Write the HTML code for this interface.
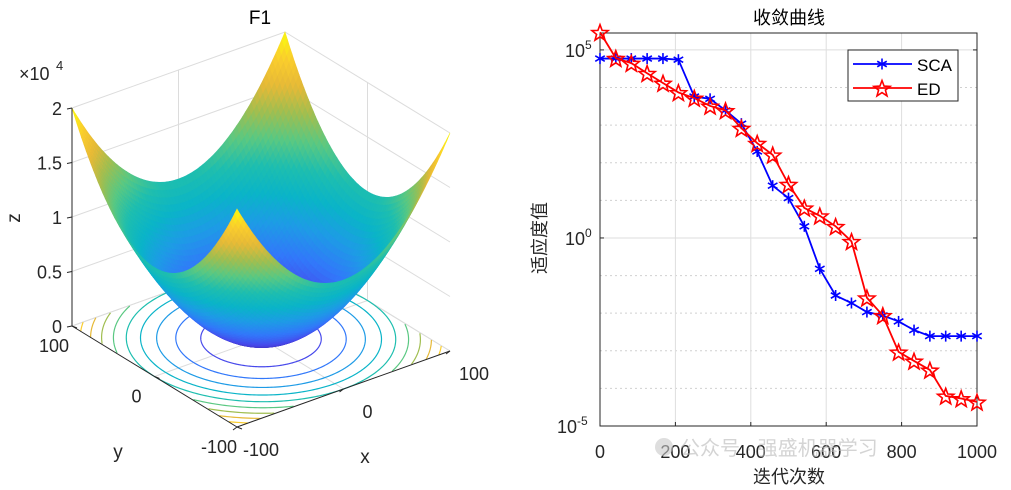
<!DOCTYPE html>
<html><head><meta charset="utf-8"><style>
body{margin:0;background:#fff;}
svg{display:block;font-family:"Liberation Sans","Noto Sans CJK SC",sans-serif;}
</style></head><body>
<svg id="s" width="1011" height="490" viewBox="0 0 1011 490">
<g id="left"></g>
<g id="right"></g>
</svg>
<script>
// ---- convergence data (log10 of fitness) ----
const iterations = [0,42,83,125,167,208,250,292,333,375,417,458,500,542,583,625,667,708,750,792,833,875,917,958,1000];
const scaLog = [4.77,4.77,4.77,4.77,4.77,4.74,3.76,3.70,3.39,3.04,2.30,1.39,1.06,0.31,-0.82,-1.53,-1.73,-1.97,-2.06,-2.22,-2.45,-2.61,-2.61,-2.61,-2.61];
const edLog = [5.47,4.78,4.65,4.38,4.12,3.87,3.72,3.51,3.39,2.92,2.52,2.21,1.43,0.80,0.59,0.31,-0.09,-1.59,-2.06,-3.03,-3.27,-3.51,-4.20,-4.27,-4.36];
const xTicks = [0,200,400,600,800,1000];
const yDecades = [5,0,-5];
// ---- surface settings ----
const zTicks = [0,0.5,1,1.5,2];
const xyTicks = [-100,0,100];
const contourLevels = [2000,4000,6000,8000,10000,12000,14000,16000,18000,20000];

const NS='http://www.w3.org/2000/svg';
function mk(parent,tag,attrs,text){const e=document.createElementNS(NS,tag);for(const k in attrs)e.setAttribute(k,attrs[k]);if(text!==undefined)e.textContent=text;parent.appendChild(e);return e;}

// parula-like
const stops=[[62,38,168],[71,73,235],[50,120,250],[30,155,230],[10,180,200],[30,190,175],[90,200,130],[160,190,80],[230,185,55],[250,205,45],[249,251,14]];
function parula(t){t=Math.max(0,Math.min(1,t));const n=stops.length-1;const p=t*n,i=Math.min(n-1,Math.floor(p)),f=p-i;const a=stops[i],b=stops[i+1];
return 'rgb('+a.map((v,k)=>Math.round(v+(b[k]-v)*f)).join(',')+')';}

function P(x,y,z){const u=(x+100)/200,v=(y+100)/200;return [237+u*213-v*165,427-u*76-v*101-z/2e4*218];}

const L=document.getElementById('left');
const gridC='#dcdcdc';
for(const zt of zTicks){const z=zt*1e4;
 let a=P(-100,100,z),b=P(100,100,z),c=P(100,-100,z);
 const gl=mk(L,'polyline',{points:[a,b,c].map(p=>p.join(',')).join(' '),fill:'none',stroke:gridC,'stroke-width':1});
 }
{let a=P(0,100,0),b=P(0,100,2e4);mk(L,'line',{x1:a[0],y1:a[1],x2:b[0],y2:b[1],stroke:gridC,});
 a=P(100,0,0);b=P(100,0,2e4);mk(L,'line',{x1:a[0],y1:a[1],x2:b[0],y2:b[1],stroke:gridC,});
 a=P(100,100,0);b=P(100,100,2e4);mk(L,'line',{x1:a[0],y1:a[1],x2:b[0],y2:b[1],stroke:gridC,});
 a=P(0,-100,0);b=P(0,100,0);mk(L,'line',{x1:a[0],y1:a[1],x2:b[0],y2:b[1],stroke:gridC,});
 a=P(-100,0,0);b=P(100,0,0);mk(L,'line',{x1:a[0],y1:a[1],x2:b[0],y2:b[1],stroke:gridC,});
 a=P(-100,100,0);b=P(100,100,0);mk(L,'line',{x1:a[0],y1:a[1],x2:b[0],y2:b[1],stroke:gridC,});
 a=P(100,-100,0);b=P(100,100,0);mk(L,'line',{x1:a[0],y1:a[1],x2:b[0],y2:b[1],stroke:gridC,});}
for(const lv of contourLevels){const r=Math.sqrt(lv);let pts=[],segs=[];
 for(let i=0;i<=360;i++){const t=i*Math.PI/180,x=r*Math.cos(t),y=r*Math.sin(t);
  if(Math.abs(x)<=100&&Math.abs(y)<=100){pts.push(P(x,y,0));}else{if(pts.length>1)segs.push(pts);pts=[];}}
 if(pts.length>1)segs.push(pts);
 for(const sg of segs){const c=mk(L,'polyline',{points:sg.map(p=>p.join(',')).join(' '),fill:'none',stroke:parula(lv/2e4),'stroke-width':1.2});
  }}
const N=70,quads=[];
for(let i=0;i<N;i++)for(let j=0;j<N;j++){
 const x0=-100+200*i/N,x1=-100+200*(i+1)/N,y0=-100+200*j/N,y1=-100+200*(j+1)/N;
 const f=(x,y)=>x*x+y*y;const xc=(x0+x1)/2,yc=(y0+y1)/2,zc=f(xc,yc);
 const depth=-0.527*xc/100-0.687*yc/100+0.5*zc/2e4*1.6;
 quads.push({pts:[P(x0,y0,f(x0,y0)),P(x1,y0,f(x1,y0)),P(x1,y1,f(x1,y1)),P(x0,y1,f(x0,y1))],z:zc,d:depth});}
quads.sort((a,b)=>a.d-b.d);
const SG=mk(L,'g',{});
for(const q of quads){const col=parula(q.z/2e4);mk(SG,'polygon',{points:q.pts.map(p=>p[0].toFixed(1)+','+p[1].toFixed(1)).join(' '),fill:col,stroke:col,'stroke-width':0.6});}
{let a=P(-100,100,0),b=P(-100,100,2e4);mk(L,'line',{x1:a[0],y1:a[1],x2:b[0],y2:b[1],stroke:'#262626',});
 a=P(-100,-100,0);b=P(100,-100,0);mk(L,'line',{x1:a[0],y1:a[1],x2:b[0],y2:b[1],stroke:'#262626',});
 b=P(-100,100,0);mk(L,'line',{x1:a[0],y1:a[1],x2:b[0],y2:b[1],stroke:'#262626',});}
for(const zt of zTicks){const p=P(-100,100,zt*1e4);mk(L,'line',{x1:p[0]-5,y1:p[1]+1,x2:p[0],y2:p[1],stroke:'#262626'});
 const t=mk(L,'text',{x:p[0]-10,y:p[1]+7,'text-anchor':'end','font-size':18,fill:'#262626'},String(zt));
 }
for(const v of xyTicks){let p=P(v,-100,0);mk(L,'line',{x1:p[0],y1:p[1],x2:p[0]-4,y2:p[1]+3,stroke:'#262626'});
 let t=mk(L,'text',{x:p[0]+24,y:p[1]+29,'text-anchor':'middle','font-size':18,fill:'#262626'},String(v));
 
 p=P(-100,v,0);mk(L,'line',{x1:p[0],y1:p[1],x2:p[0]+5,y2:p[1]+2,stroke:'#262626'});
 t=mk(L,'text',{x:p[0]-18,y:p[1]+26,'text-anchor':'middle','font-size':18,fill:'#262626'},String(v));
 }
mk(L,'text',{x:260,y:24,'text-anchor':'middle','font-size':19,fill:'#000',},'F1');
mk(L,'text',{x:19,y:80,'font-size':18,fill:'#262626',},'×10');
mk(L,'text',{x:56,y:70,'font-size':13,fill:'#262626',},'4');
mk(L,'text',{x:20,y:218,'text-anchor':'middle','font-size':19,fill:'#262626',transform:'rotate(-90 20 218)',},'z');
mk(L,'text',{x:118,y:458,'text-anchor':'middle','font-size':19,fill:'#262626',},'y');
mk(L,'text',{x:365,y:463,'text-anchor':'middle','font-size':19,fill:'#262626',},'x');

const R=document.getElementById('right');
const ax={l:600,r:977,t:33,b:426};const yMin=-5,yMax=5.45;
const xs=v=>ax.l+v/1000*(ax.r-ax.l);
const ys=v=>ax.b-(v-yMin)/(yMax-yMin)*(ax.b-ax.t);
for(let d=-4;d<=5;d++){if(d===0||d===5)continue;const y=ys(d);
 const g=mk(R,'line',{x1:ax.l,y1:y,x2:ax.r,y2:y,stroke:'#d0d0d0','stroke-dasharray':'2,3'});}
for(const d of yDecades){const y=ys(d);const g=mk(R,'line',{x1:ax.l,y1:y,x2:ax.r,y2:y,stroke:'#dedede'});
 mk(R,'line',{x1:ax.l,y1:y,x2:ax.l+4,y2:y,stroke:'#262626'});mk(R,'line',{x1:ax.r,y1:y,x2:ax.r-4,y2:y,stroke:'#262626'});
 const t=mk(R,'text',{x:ax.l-34,y:y+7,'font-size':18,fill:'#262626'});
 t.innerHTML='10<tspan dy="-8" font-size="12">'+d+'</tspan>';
 t.setAttribute('x',ax.l-(d<0?43:35));}
for(const v of xTicks){const x=xs(v);const g=mk(R,'line',{x1:x,y1:ax.t,x2:x,y2:ax.b,stroke:'#dedede'});
 mk(R,'line',{x1:x,y1:ax.b,x2:x,y2:ax.b-4,stroke:'#262626'});
 const t=mk(R,'text',{x:x,y:458,'text-anchor':'middle','font-size':18,fill:'#262626'},String(v));}
mk(R,'rect',{x:ax.l,y:ax.t,width:ax.r-ax.l,height:ax.b-ax.t,fill:'none',stroke:'#262626',});
function star(cx,cy,r){let p=[];for(let i=0;i<10;i++){const a=-Math.PI/2+i*Math.PI/5,rr=i%2?r*0.42:r;p.push((cx+rr*Math.cos(a)).toFixed(1)+','+(cy+rr*Math.sin(a)).toFixed(1));}return p.join(' ');}
function asterisk(g,cx,cy,r,col){for(let k=0;k<3;k++){const a=k*Math.PI/3+Math.PI/2;mk(g,'line',{x1:cx-r*Math.cos(a),y1:cy-r*Math.sin(a),x2:cx+r*Math.cos(a),y2:cy+r*Math.sin(a),stroke:col,'stroke-width':1.6});}}
const sg=mk(R,'g',{});
mk(sg,'polyline',{points:iterations.map((v,i)=>xs(v)+','+ys(scaLog[i])).join(' '),fill:'none',stroke:'#0000ff','stroke-width':1.8});
iterations.forEach((v,i)=>asterisk(sg,xs(v),ys(scaLog[i]),5.5,'#0000ff'));
const eg=mk(R,'g',{});
mk(eg,'polyline',{points:iterations.map((v,i)=>xs(v)+','+ys(edLog[i])).join(' '),fill:'none',stroke:'#ff0000','stroke-width':1.8});
iterations.forEach((v,i)=>{mk(eg,'polygon',{points:star(xs(v),ys(edLog[i])+1,8.5),fill:'none',stroke:'#ff0000','stroke-width':1.6});});
const lg=mk(R,'g',{});
mk(lg,'rect',{x:848,y:50,width:110,height:51,fill:'#fff',stroke:'#262626'});
mk(lg,'line',{x1:853,y1:64,x2:912,y2:64,stroke:'#0000ff','stroke-width':1.8});asterisk(lg,882,64,5.5,'#0000ff');
mk(lg,'text',{x:917,y:71,'font-size':17,fill:'#000',},'SCA');
mk(lg,'line',{x1:853,y1:88,x2:912,y2:88,stroke:'#ff0000','stroke-width':1.8});mk(lg,'polygon',{points:star(882,89,8.5),fill:'none',stroke:'#ff0000','stroke-width':1.6});
mk(lg,'text',{x:917,y:95,'font-size':17,fill:'#000',},'ED');
mk(R,'text',{x:789,y:24,'text-anchor':'middle','font-size':18,fill:'#000',},'收敛曲线');
mk(R,'text',{x:789,y:483,'text-anchor':'middle','font-size':18,fill:'#262626',},'迭代次数');
mk(R,'text',{x:546,y:238,'text-anchor':'middle','font-size':18,fill:'#262626',transform:'rotate(-90 546 238)',},'适应度值');
mk(R,'circle',{cx:664,cy:447,r:9,fill:'#c8c8c8','fill-opacity':0.6,});
mk(R,'text',{x:680,y:455,'font-size':20,fill:'#b8b8b8','fill-opacity':0.6,},'公众号 · 强盛机器学习');
</script>
</body></html>
